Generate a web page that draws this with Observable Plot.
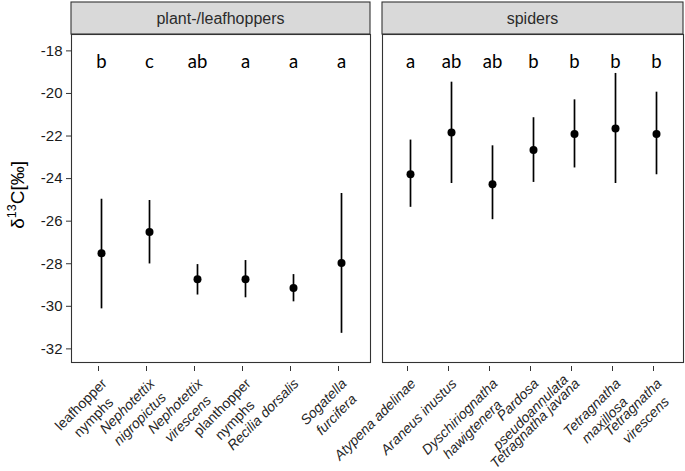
<!DOCTYPE html>
<html><head><meta charset="utf-8">
<script src="https://cdn.jsdelivr.net/npm/d3@7"></script>
<script src="https://cdn.jsdelivr.net/npm/@observablehq/plot@0.6"></script>
<style>
body{margin:0;background:#fff;}
#wrap{display:flex;width:685px;height:471px;align-items:flex-start;}
#wrap svg{overflow:visible;background:transparent;}
</style></head><body><div id="wrap"></div>
<script>
// ---- data: plant-/leafhoppers ----
const hopperCats = ["leafhopper\nnymphs","Nephotettix\nnigropictus","Nephotettix\nvirescens","planthopper\nnymphs","Recilia dorsalis","Sogatella\nfurcifera"];
const hopperMean = [-27.51,-26.51,-28.73,-28.73,-29.14,-27.96];
const hopperLow  = [-30.12,-28.01,-29.47,-29.60,-29.79,-31.27];
const hopperHigh = [-24.97,-25.03,-28.04,-27.85,-28.51,-24.70];
const hopperLetters = ["b","c","ab","a","a","a"];
const hopperItalic = [false,true,true,false,true,true];

// ---- data: spiders ----
const spiderCats = ["Atypena adelinae","Araneus inustus","Dyschiriognatha\nhawigtenera","Pardosa\npseudoannulata","Tetragnatha javana","Tetragnatha\nmaxillosa","Tetragnatha\nvirescens"];
const spiderMean = [-23.79,-21.83,-24.26,-22.66,-21.91,-21.65,-21.91];
const spiderLow  = [-25.35,-24.23,-25.93,-24.18,-23.50,-24.23,-23.82];
const spiderHigh = [-22.19,-19.47,-22.46,-21.14,-20.30,-19.06,-19.94];
const spiderLetters = ["a","ab","ab","b","b","b","b"];
const spiderItalic = [true,true,true,true,true,true,true];

const yTicks = [-32,-30,-28,-26,-24,-22,-20,-18];
const yDomain = [-32.64,-17.23];
const panelTitles = ["plant-/leafhoppers","spiders"];

const rows = (cats, mean, low, high, letters, italic) =>
  cats.map((c,i)=>({cat:c, mean:mean[i], low:low[i], high:high[i], letter:letters[i], italic:italic[i]}));

const hopperData = rows(hopperCats,hopperMean,hopperLow,hopperHigh,hopperLetters,hopperItalic);
const spiderData = rows(spiderCats,spiderMean,spiderLow,spiderHigh,spiderLetters,spiderItalic);

const H = 471, MT = 34, MB = 109;
const axisFont = "'Liberation Sans', Arial, sans-serif";

function strip(label){
  return (index, scales, values, dims) => {
    const g = d3.create("svg:g");
    const x0 = dims.marginLeft, x1 = dims.width - dims.marginRight;
    g.append("rect").attr("x", x0).attr("y", 2).attr("width", x1-x0).attr("height", dims.marginTop-2)
      .attr("fill","#d9d9d9").attr("stroke","#333").attr("stroke-width",1.1);
    g.append("text").attr("x",(x0+x1)/2).attr("y", (2+dims.marginTop)/2).attr("dy","0.35em")
      .attr("text-anchor","middle").attr("font-family",axisFont).attr("font-size",16)
      .attr("fill","#2b2b2b").text(label);
    return g.node();
  };
}

function yTitle(){
  return (index, scales, values, dims) => {
    const t = d3.create("svg:text").attr("transform",`translate(23.5,161) rotate(-90)`)
      .attr("text-anchor","end").attr("font-family",axisFont).attr("font-size",19).attr("fill","#000");
    t.append("tspan").text("δ");
    t.append("tspan").attr("dy",-7.5).attr("font-size",12.5).text("13");
    t.append("tspan").attr("dy",7.5).text("C[‰]");
    return t.node();
  };
}

function panel(data, title, opts){
  const italicCats = data.filter(d=>d.italic).map(d=>d.cat);
  const normalCats = data.filter(d=>!d.italic).map(d=>d.cat);
  const axisOpts = {tickRotate:-45, tickSize:5, tickPadding:4, textAnchor:"end", lineAnchor:"top", lineHeight:1.28,
    fontSize:14, fontFamily:axisFont, stroke:"#333", fill:"#262626", label:null, dx:-3, dy:4};
  return Plot.plot({
    width: opts.width, height: H,
    marginLeft: opts.marginLeft, marginRight: opts.marginRight, marginTop: MT, marginBottom: MB,
    style:{background:"transparent", fontFamily:axisFont},
    x:{type:"point", domain:data.map(d=>d.cat), padding:0.6},
    y:{domain:yDomain},
    marks:[
      Plot.frame({stroke:"#333", strokeWidth:1.1}),
      strip(title),
      opts.yAxis ? Plot.axisY(yTicks, {tickSize:5, tickPadding:4, fontSize:15, fontFamily:axisFont, stroke:"#333", fill:"#1a1a1a", label:null, tickFormat:d=>String(d)}) : Plot.axisY([], {label:null}),
      opts.yAxis ? yTitle() : null,
      italicCats.length ? Plot.axisX(italicCats, {...axisOpts, fontStyle:"italic"}) : null,
      normalCats.length ? Plot.axisX(normalCats, axisOpts) : null,
      Plot.ruleX(data, {x:"cat", y1:"low", y2:"high", stroke:"#000", strokeWidth:1.7}),
      Plot.dot(data, {x:"cat", y:"mean", r:4, fill:"#000", stroke:"none"}),
      Plot.text(data, {x:"cat", text:"letter", frameAnchor:"top", dy:33, lineAnchor:"bottom",
        fontSize:18.5, fontFamily:"Lato, 'Open Sans', sans-serif", fill:"#000"})
    ]
  });
}

// center subsequent label lines on the first line (as in the source figure)
function centerLines(svg){
  d3.select(svg).selectAll('g[aria-label="x-axis tick label"] text').each(function(){
    const spans = this.querySelectorAll("tspan");
    if (spans.length < 2) return;
    const w0 = spans[0].getComputedTextLength();
    for (let i = 1; i < spans.length; i++) {
      const wi = spans[i].getComputedTextLength();
      spans[i].setAttribute("x", (wi - w0)/2);
    }
  });
}

const wrap = document.getElementById("wrap");
const p1 = panel(hopperData, panelTitles[0], {width:371, marginLeft:71, marginRight:1, yAxis:true});
const p2 = panel(spiderData, panelTitles[1], {width:314, marginLeft:11, marginRight:2, yAxis:false});
wrap.append(p1, p2);
centerLines(p1); centerLines(p2);
</script></body></html>
